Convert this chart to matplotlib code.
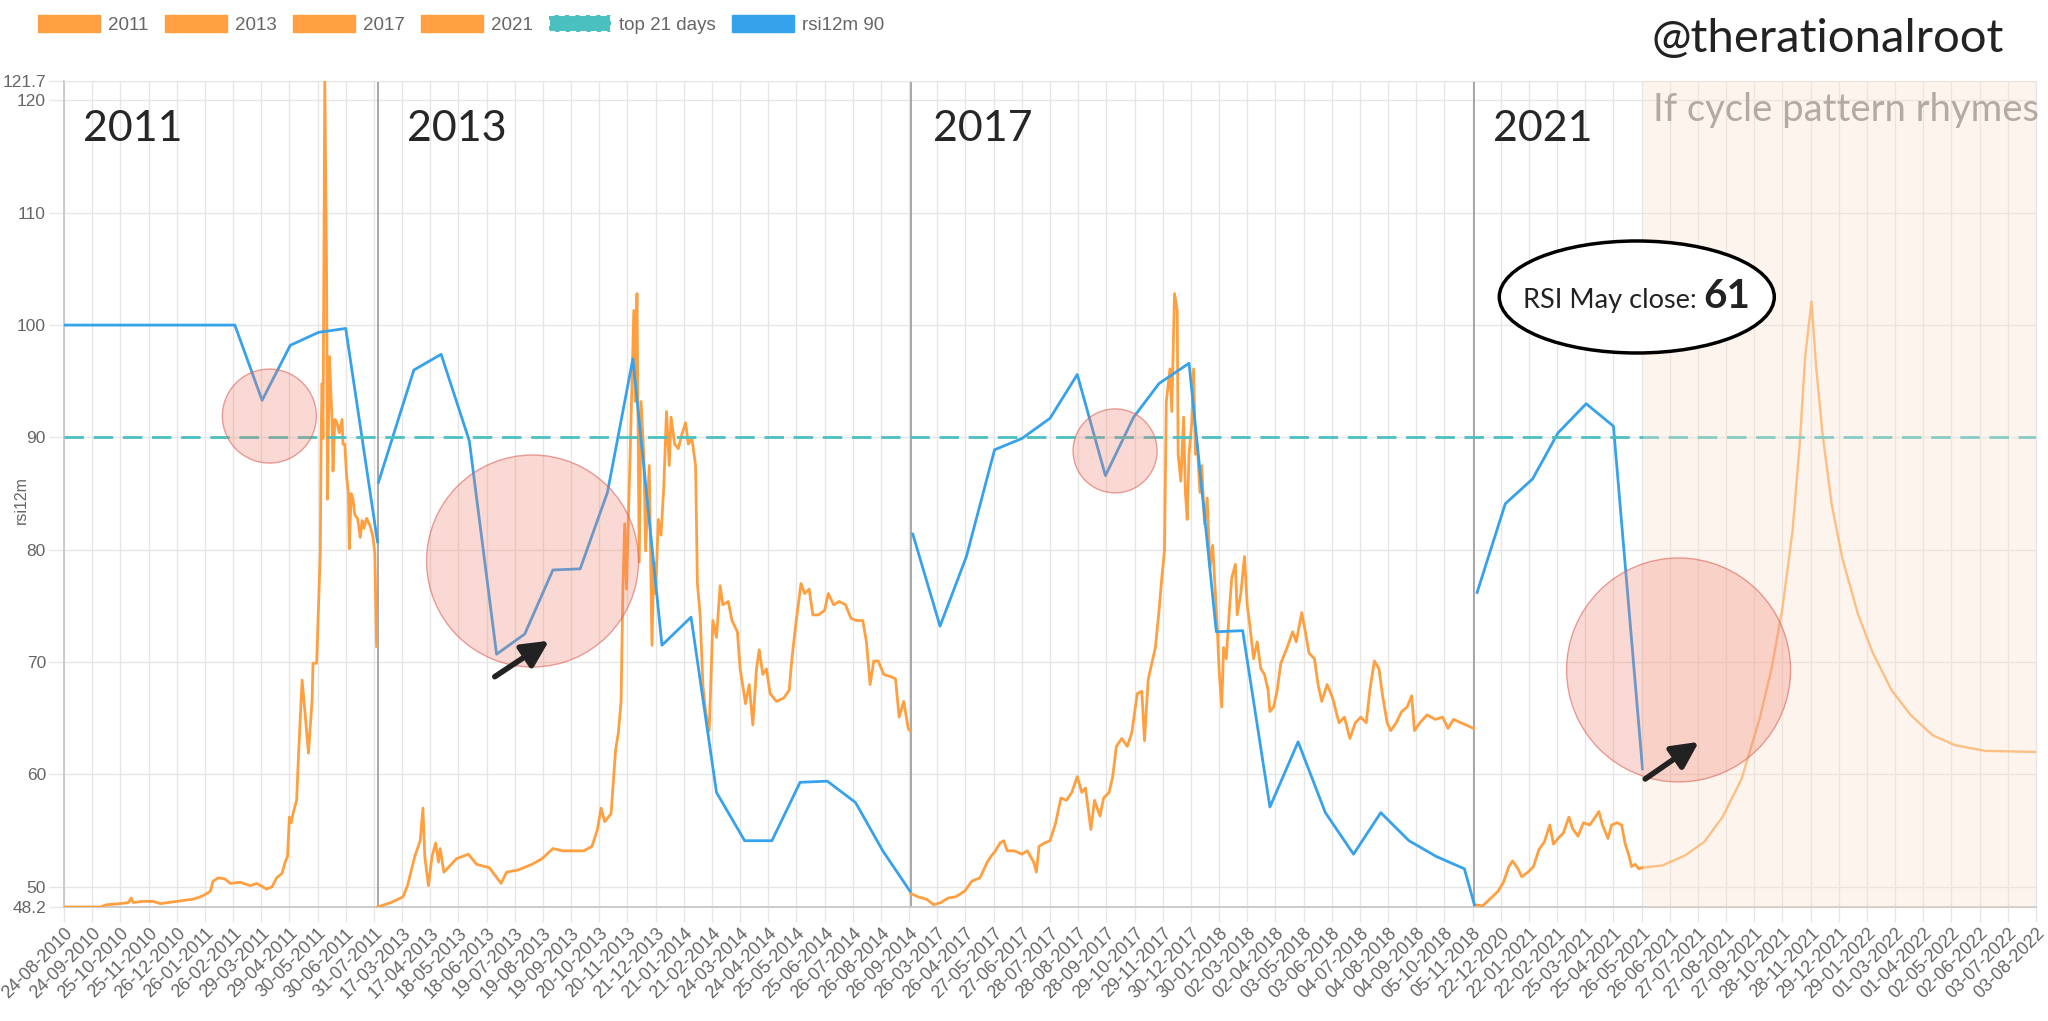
# RSI 12m cycle comparison chart (2011 / 2013 / 2017 / 2021)

import numpy as np
import matplotlib.pyplot as plt
from matplotlib.patches import Patch, Ellipse

# x axis is a category axis of concatenated daily dates, one label every 31 days
tick_labels = [
    "24-08-2010", "24-09-2010", "25-10-2010", "25-11-2010", "26-12-2010", "26-01-2011",
    "26-02-2011", "29-03-2011", "29-04-2011", "30-05-2011", "30-06-2011", "31-07-2011",
    "17-03-2013", "17-04-2013", "18-05-2013", "18-06-2013", "19-07-2013", "19-08-2013",
    "19-09-2013", "20-10-2013", "20-11-2013", "21-12-2013", "21-01-2014", "21-02-2014",
    "24-03-2014", "24-04-2014", "25-05-2014", "25-06-2014", "26-07-2014", "26-08-2014",
    "26-09-2014", "26-03-2017", "26-04-2017", "27-05-2017", "27-06-2017", "28-07-2017",
    "28-08-2017", "28-09-2017", "29-10-2017", "29-11-2017", "30-12-2017", "30-01-2018",
    "02-03-2018", "02-04-2018", "03-05-2018", "03-06-2018", "04-07-2018", "04-08-2018",
    "04-09-2018", "05-10-2018", "05-11-2018", "22-12-2020", "22-01-2021", "22-02-2021",
    "25-03-2021", "25-04-2021", "26-05-2021", "26-06-2021", "27-07-2021", "27-08-2021",
    "27-09-2021", "28-10-2021", "28-11-2021", "29-12-2021", "29-01-2022", "01-03-2022",
    "01-04-2022", "02-05-2022", "02-06-2022", "03-07-2022", "03-08-2022",
]
tick_step = 31
y_ticks = [48.2, 50, 60, 70, 80, 90, 100, 110, 120, 121.7]

# daily rsi (orange) per cycle, x = day index on the joined axis
o2011_x = [0, 40, 47, 62, 71, 74, 76, 87, 98, 106, 124, 142, 150, 155, 161, 164, 170, 177,
           183, 194, 205, 212, 223, 229, 234, 240, 243, 246, 248, 250, 252, 256, 258, 262,
           265, 269, 273, 274, 278, 280, 282, 283, 284, 285, 287, 289, 290, 292, 293, 295,
           296, 298, 300, 303, 306, 307, 309, 311, 313, 314, 316, 318, 320, 323, 326, 328,
           330, 333, 337, 340, 342, 344]
o2011_y = [48.2, 48.2, 48.4, 48.5, 48.6, 49.0, 48.6, 48.7, 48.7, 48.5, 48.7, 48.9, 49.1, 49.3,
           49.6, 50.5, 50.8, 50.7, 50.3, 50.4, 50.1, 50.3, 49.8, 50.0, 50.8, 51.2, 52.1, 52.7,
           56.2, 55.7, 56.5, 57.7, 61.6, 68.4, 65.7, 61.9, 66.6, 69.9, 69.9, 74.8, 79.7, 90.4,
           94.8, 89.9, 121.7, 104.1, 84.5, 97.2, 95.3, 91.4, 87.0, 91.6, 91.4, 90.4, 91.6,
           89.4, 89.4, 86.5, 85.0, 80.1, 85.0, 84.5, 83.1, 82.8, 81.1, 82.6, 81.9, 82.8,
           82.1, 81.1, 79.7, 71.4]

o2013_x = [345, 360, 373, 378, 386, 392, 395, 397, 401, 405, 409, 412, 414, 418, 432, 445,
           454, 468, 481, 487, 500, 515, 526, 538, 549, 564, 572, 581, 587, 591, 595, 602,
           607, 610, 613, 615, 617, 619, 621, 623, 627, 628.5, 630.5, 633, 635, 638, 640,
           644, 647, 649, 651, 654, 657, 660, 663, 666, 668, 672, 676, 680, 684, 687, 691,
           695, 697, 700, 703, 706, 710, 714, 718, 722, 725, 731, 735, 741, 744, 750, 754,
           758, 762, 765, 769, 773, 777, 784, 792, 798, 801, 805, 811, 815, 820, 824, 830,
           837, 841, 847, 853, 860, 866, 872, 879, 883, 887, 891, 896, 902, 910, 915, 919,
           924, 929, 931]
o2013_y = [48.2, 48.6, 49.1, 50.1, 52.7, 54.1, 57.0, 52.7, 50.1, 52.7, 53.9, 52.2, 53.4, 51.3,
           52.5, 52.9, 52.0, 51.7, 50.3, 51.3, 51.5, 52.0, 52.5, 53.4, 53.2, 53.2, 53.2, 53.6,
           55.1, 57.0, 55.8, 56.5, 62.2, 63.7, 66.5, 76.5, 82.3, 76.5, 82.7, 88.5, 101.3,
           93.2, 102.8, 78.9, 93.2, 88.5, 79.9, 87.5, 71.5, 78.9, 76.1, 82.7, 81.3, 85.6,
           92.3, 87.5, 91.8, 89.4, 89.0, 90.3, 91.3, 89.4, 89.9, 87.5, 77.0, 74.2, 68.0,
           65.6, 63.9, 73.7, 72.2, 76.8, 75.1, 75.4, 73.7, 72.7, 69.4, 66.3, 68.0, 64.4,
           69.4, 71.1, 68.9, 69.4, 67.2, 66.5, 66.8, 67.5, 70.3, 73.2, 77.0, 76.1, 76.5,
           74.2, 74.2, 74.6, 76.1, 75.1, 75.4, 75.1, 73.9, 73.7, 73.7, 71.8, 68.0, 70.1,
           70.1, 68.9, 68.7, 68.5, 65.1, 66.5, 64.1, 63.9]

o2017_x = [932, 940, 949, 957, 965, 973, 981, 991, 999, 1008, 1016, 1020, 1025, 1030, 1034,
           1038, 1046, 1054, 1060, 1067, 1070, 1073, 1079, 1085, 1091, 1097, 1103, 1109,
           1115, 1120, 1124, 1130, 1134, 1140, 1144, 1150, 1154, 1158, 1164, 1170, 1175,
           1181, 1186, 1189, 1193, 1197, 1201, 1205, 1208, 1211, 1213, 1217, 1219, 1222,
           1225, 1226, 1229, 1232, 1234, 1236, 1238, 1241, 1243, 1245, 1247, 1250, 1252,
           1255, 1258, 1261, 1264, 1267, 1269, 1271, 1274, 1276, 1279, 1282, 1285, 1289,
           1291, 1295, 1299, 1302, 1305, 1309, 1313, 1317, 1321, 1325, 1327, 1331, 1335,
           1339, 1346, 1352, 1356, 1362, 1366, 1370, 1376, 1380, 1384, 1390, 1396, 1403,
           1409, 1415, 1421, 1427, 1433, 1437, 1442, 1447, 1451, 1456, 1460, 1466, 1472,
           1478, 1483, 1486, 1492, 1500, 1509, 1517, 1523, 1529, 1537, 1543, 1551]
o2017_y = [49.4, 49.1, 48.9, 48.4, 48.6, 49.0, 49.1, 49.6, 50.5, 50.8, 52.2, 52.7, 53.2, 53.9,
           54.1, 53.2, 53.2, 52.9, 53.2, 52.2, 51.3, 53.6, 53.9, 54.1, 55.6, 57.9, 57.7, 58.4,
           59.8, 58.4, 58.8, 55.1, 57.7, 56.3, 57.9, 58.4, 59.8, 62.5, 63.2, 62.5, 63.7, 67.2,
           67.4, 63.0, 68.4, 69.9, 71.3, 74.6, 77.5, 79.9, 93.2, 96.1, 92.3, 102.8, 101.3,
           88.5, 86.1, 91.8, 85.1, 82.7, 88.5, 91.3, 96.1, 88.5, 89.4, 85.1, 87.5, 82.3, 84.6,
           78.4, 80.4, 76.1, 73.2, 69.4, 66.0, 71.3, 70.3, 74.2, 77.5, 78.7, 74.2, 76.1, 79.4,
           75.1, 73.2, 70.3, 71.8, 69.4, 68.9, 67.5, 65.6, 66.0, 67.5, 69.9, 71.3, 72.7, 71.8,
           74.4, 72.7, 70.8, 70.3, 68.0, 66.5, 68.0, 66.8, 64.6, 65.1, 63.2, 64.6, 65.1, 64.6,
           67.5, 70.1, 69.4, 67.0, 64.6, 63.9, 64.6, 65.6, 66.0, 67.0, 63.9, 64.6, 65.3, 64.9,
           65.1, 64.1, 64.9, 64.6, 64.4, 64.1]

o2021_x = [1552, 1561, 1569, 1578, 1584, 1590, 1594, 1600, 1604, 1611, 1617, 1623, 1629, 1635,
           1639, 1644, 1650, 1656, 1660, 1666, 1672, 1679, 1685, 1689, 1693, 1699, 1703, 1709,
           1714, 1718, 1722, 1725, 1729, 1733, 1737]
o2021_y = [48.4, 48.3, 48.9, 49.6, 50.4, 51.8, 52.3, 51.6, 50.9, 51.3, 51.8, 53.3, 54.0, 55.5,
           53.8, 54.3, 54.8, 56.2, 55.2, 54.5, 55.7, 55.5, 56.2, 56.7, 55.5, 54.3, 55.5, 55.7,
           55.5, 53.8, 52.8, 51.8, 52.0, 51.6, 51.7]

# "if cycle pattern rhymes" projection
proj_x = [1737, 1759, 1784, 1805, 1825, 1846, 1866, 1879, 1891, 1902, 1910, 1916, 1923, 1928,
          1935, 1945, 1957, 1974, 1990, 2011, 2032, 2056, 2081, 2114, 2170]
proj_y = [51.7, 51.9, 52.8, 54.0, 56.2, 59.6, 65.0, 69.4, 74.8, 81.6, 89.4, 97.2, 102.1, 96.3,
          90.4, 84.1, 79.2, 74.3, 70.9, 67.5, 65.3, 63.5, 62.6, 62.1, 62.0]

# monthly rsi12m 90 (blue), nan = gap between cycles
nan = np.nan
rsi_x = [0, 188, 218, 249, 280, 310, 345, nan,
         346, 385, 415, 446, 476, 507, 538, 568, 598, 626, 658, 690, 718, 749, 779, 810, 840,
         871, 901, 931, nan,
         934, 964, 993, 1024, 1054, 1085, 1115, 1146, 1177, 1205, 1238, 1268, 1297, 1327,
         1358, 1388, 1419, 1449, 1480, 1510, 1541, 1552, nan,
         1555, 1586, 1616, 1644, 1675, 1705, 1737]
rsi_y = [100, 100, 93.3, 98.2, 99.35, 99.7, 80.7, nan,
         86.0, 96.0, 97.4, 89.7, 70.7, 72.5, 78.2, 78.3, 85.1, 97.0, 71.5, 74.0, 58.4, 54.1,
         54.1, 59.3, 59.4, 57.5, 53.2, 49.6, nan,
         81.4, 73.2, 79.4, 88.9, 89.9, 91.7, 95.6, 86.6, 91.8, 94.8, 96.6, 72.7, 72.8, 57.1,
         62.9, 56.6, 52.9, 56.6, 54.1, 52.7, 51.6, 48.4, nan,
         76.2, 84.1, 86.3, 90.4, 93.0, 91.0, 60.5]
top_level = 90

# annotations
years = ["2011", "2013", "2017", "2021"]
year_x = [21, 377, 956, 1572]
circle_x = [226, 515.6, 1156.6, 1776.7]
circle_y = [91.9, 79.0, 88.8, 69.3]
circle_d = [94, 212, 84, 224]  # diameter, px
arrow_from = [(474, 68.7), (1740, 59.6)]
arrow_to = [(533.7, 71.9), (1799, 62.9)]
shade_start = 1737

ORANGE = "#ff9f40"
BLUE = "#36a2eb"
TEAL = "#4bc0c0"
GRID = "#e6e6e6"
TXT = "#666666"

plt.rcParams["font.family"] = ["Liberation Sans", "DejaVu Sans"]

fig = plt.figure(figsize=(20.48, 10.21), dpi=100)
ax = fig.add_axes([0.03125, 0.11166, 0.96289, 0.80871])

n_ticks = len(tick_labels)
x_max = (n_ticks - 1) * tick_step
ax.set_xlim(0, x_max)
ax.set_ylim(y_ticks[0], y_ticks[-1])
ax.set_xticks(np.arange(n_ticks) * tick_step)
ax.set_xticklabels(tick_labels, rotation=45, ha="right", rotation_mode="anchor")
ax.set_yticks(y_ticks)
ax.set_yticklabels([f"{v:g}" for v in y_ticks])
ax.tick_params(length=11, width=1, color=GRID, labelcolor=TXT, pad=2)
ax.tick_params(axis="x", labelsize=13)
ax.tick_params(axis="y", labelsize=12.5)
ax.grid(color=GRID, lw=1)
ax.set_axisbelow(True)
for side in ["top", "right"]:
    ax.spines[side].set_color(GRID)
for side in ["left", "bottom"]:
    ax.spines[side].set_color("#c8c8c8")
    ax.spines[side].set_linewidth(1.3)

# cycle separators
for xs in [o2013_x[0], o2017_x[0], o2021_x[0]]:
    ax.axvline(xs, color="#9a9a9a", lw=1.2, zorder=1)

for xs, ys in [(o2011_x, o2011_y), (o2013_x, o2013_y), (o2017_x, o2017_y), (o2021_x, o2021_y)]:
    ax.plot(xs, ys, color=ORANGE, lw=2, zorder=3)
ax.plot(proj_x, proj_y, color=ORANGE, lw=1.7, alpha=0.85, zorder=3)
ax.plot(rsi_x, rsi_y, color=BLUE, lw=2, zorder=4)
ax.axhline(top_level, color=TEAL, lw=2, dashes=(7, 3.5), zorder=4)

ax.axvspan(shade_start, x_max, color=(250 / 255, 225 / 255, 205 / 255), alpha=0.35, lw=0, zorder=5)

ax.scatter(circle_x, circle_y, s=[(d * 0.72) ** 2 for d in circle_d],
           facecolor=(240 / 255, 128 / 255, 110 / 255, 0.3),
           edgecolor=(220 / 255, 100 / 255, 90 / 255, 0.6), lw=1, zorder=6)
for a, b in zip(arrow_from, arrow_to):
    ax.annotate("", xy=b, xytext=a,
                arrowprops=dict(arrowstyle="-|>", color="#222222", lw=4,
                                mutation_scale=40, shrinkA=0, shrinkB=0), zorder=7)

for yr, xp in zip(years, year_x):
    ax.text(xp, 116.4, yr, fontsize=31, color="#262626", family="Lato", va="baseline", zorder=7)
ax.text(1748.6, 118.15, "If cycle pattern rhymes", fontsize=27.5, color="#b3aaa3",
        family="Lato", va="baseline", zorder=7)

ax.add_patch(Ellipse((1730.7, 102.5), 302.6, 9.97, facecolor="white", edgecolor="black",
                     lw=2.5, zorder=8))
ax.text(1797, 101.5, "RSI May close:", fontsize=19.5, family="Lato", color="#222222",
        ha="right", va="baseline", zorder=9)
ax.text(1803.5, 101.5, "61", fontsize=29, family="Lato", fontweight="bold",
        color="#222222", ha="left", va="baseline", zorder=9)

fig.text(21 / 2048, 1 - 500 / 1021, "rsi12m", rotation=90, fontsize=11.5, color=TXT,
         ha="center", va="center")
fig.text(1651 / 2048, 1 - 52 / 1021, "@therationalroot", fontsize=34, family="Lato",
         color="#222222", ha="left", va="baseline")

handles = [Patch(facecolor=ORANGE, edgecolor=ORANGE) for _ in years]
handles.append(Patch(facecolor=TEAL, edgecolor="white", linestyle=(0, (3, 2)), lw=1.5))
handles.append(Patch(facecolor=BLUE, edgecolor=BLUE))
fig.legend(handles, years + ["top 21 days", "rsi12m 90"], loc="upper left",
           bbox_to_anchor=(38 / 2048, 1 - 15 / 1021), ncol=6, frameon=False, fontsize=13.5,
           handlelength=3.3, handleheight=1.05, handletextpad=0.45, columnspacing=0.85,
           borderpad=0, borderaxespad=0, labelcolor=TXT)

fig.savefig("out.png", dpi=100)
